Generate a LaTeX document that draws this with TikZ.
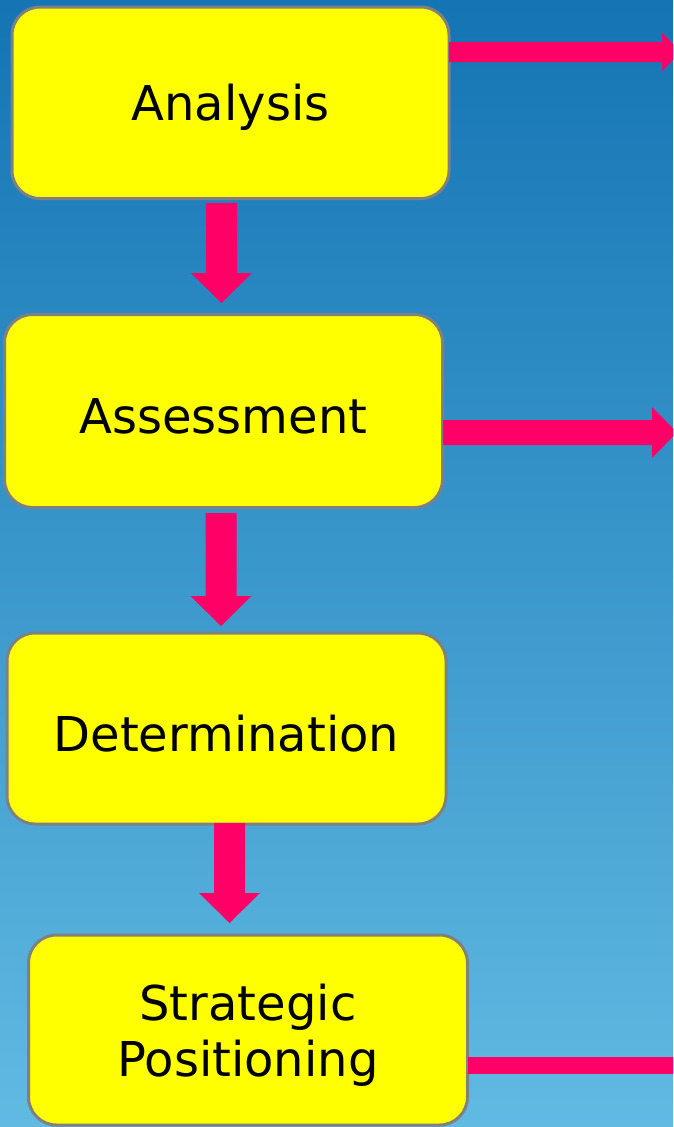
\documentclass[tikz,border=0pt]{standalone}
\usepackage{fontspec}
\setmainfont{DejaVu Sans}
\usetikzlibrary{calc}
\definecolor{bgtop}{RGB}{20,116,180}
\definecolor{bgbot}{RGB}{97,186,226}
\definecolor{boxfill}{RGB}{255,255,0}
\definecolor{boxline}{RGB}{128,128,128}
\definecolor{arrowpink}{RGB}{255,0,102}
\tikzset{
  stagebox/.style={draw=boxline, line width=3pt, fill=boxfill, rounded corners=28pt,
    inner sep=0pt, align=center, font=\fontsize{48}{56}\selectfont},
  blockarrow/.style={fill=arrowpink, draw=none}
}
\newcommand\lowered[1]{\raisebox{-5pt}[\height][\depth]{#1}}
\newcommand\downblock[2]{%
  \fill[blockarrow] ($(#1)+(-15.5,0)$) -- ($(#1)+(15.5,0)$) -- ($(#2)+(15.5,-30)$) --
    ($(#2)+(30.5,-30)$) -- (#2) -- ($(#2)+(-30.5,-30)$) -- ($(#2)+(-15.5,-30)$) -- cycle;}
% #1 start, #2 tip, #3 half shaft, #4 half head, #5 head length
\newcommand\rightblock[5]{%
  \fill[blockarrow] ($(#1)+(0,-#3)$) -- ($(#2)+(-#5,-#3)$) -- ($(#2)+(-#5,-#4)$) -- (#2) --
    ($(#2)+(-#5,#4)$) -- ($(#2)+(-#5,#3)$) -- ($(#1)+(0,#3)$) -- cycle;}
\begin{document}
\begin{tikzpicture}[x=1pt,y=-1pt]
\useasboundingbox (0,0) rectangle (673,1127);
\clip (0,0) rectangle (673,1127);
\shade[top color=bgtop, bottom color=bgbot] (0,0) rectangle (673,1127);

\node[stagebox, minimum width=437pt, minimum height=191.5pt] (an) at (230.5,102.75) {\lowered{Analysis}};
\node[stagebox, minimum width=438pt, minimum height=193pt] (as) at (223.5,411) {\lowered{Assessment}};
\node[stagebox, minimum width=439pt, minimum height=191pt] (de) at (226.5,728.5) {\lowered{Determination}};
\node[stagebox, minimum width=439pt, minimum height=190pt] (sp) at (248,1030) {\lowered{Strategic}\\\lowered{Positioning}};

% down arrows
\coordinate (d1a) at ([xshift=-9pt,yshift=-3pt]an.south);
\coordinate (d1b) at ([yshift=10pt]d1a |- as.north);
\downblock{d1a}{d1b}
\coordinate (d2a) at ([xshift=-2.5pt,yshift=-4pt]as.south);
\coordinate (d2b) at ([yshift=5.5pt]d2a |- de.north);
\downblock{d2a}{d2b}
\coordinate (d3a) at ([xshift=3pt,yshift=2.5pt]de.south);
\coordinate (d3b) at ([yshift=10.5pt]d3a |- sp.north);
\downblock{d3a}{d3b}

% right arrows
\coordinate (r1a) at ([xshift=-1.5pt,yshift=50.75pt]an.east);
\coordinate (r1b) at ([xshift=232pt]r1a);
\rightblock{r1a}{r1b}{10}{19}{19}
\coordinate (r2a) at ([xshift=-1pt,yshift=-21.5pt]as.east);
\coordinate (r2b) at ([xshift=234pt]r2a);
\rightblock{r2a}{r2b}{12.5}{25.5}{25}
\coordinate (r4a) at ([xshift=-1.5pt,yshift=-35.5pt]sp.east);
\coordinate (r4b) at ([xshift=240pt]r4a);
\fill[blockarrow] ($(r4a)+(0,-8.5)$) rectangle ($(r4b)+(0,8.5)$);
\end{tikzpicture}
\end{document}
